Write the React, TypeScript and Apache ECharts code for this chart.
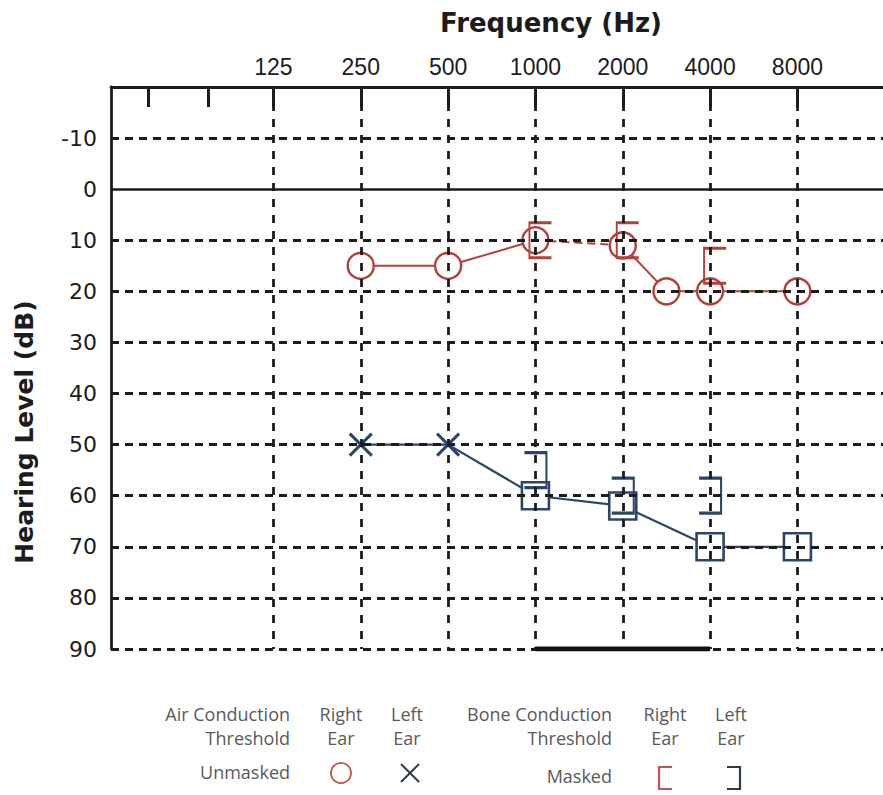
import React, { useEffect, useRef } from 'react';
import * as echarts from 'echarts';

// ---- data ----
const FREQ_LABELS = [125, 250, 500, 1000, 2000, 4000, 8000];
const EXTRA_TICK_POS = [-1.43, -0.75];
const DB_GRID = [-10, 10, 20, 30, 40, 50, 60, 70, 80, 90];
const DB_REF = [0];

const rightAirFreq = [250, 500, 1000, 2000, 3000, 4000, 8000];
const rightAirDb = [15, 15, 10, 11, 20, 20, 20];
const rightAirDashedSeg = [2]; // segment starting at index 2 (1000 -> 2000)

const leftAirFreq = [250, 500, 1000, 2000, 4000, 8000];
const leftAirDb = [50, 50, 60, 62, 70, 70];
const leftAirMark = ['x', 'x', 'square', 'square', 'square', 'square'];

const rightBoneFreq = [1000, 2000, 4000];
const rightBoneDb = [10, 10, 15];
const leftBoneFreq = [1000, 2000, 4000];
const leftBoneDb = [55, 60, 60];

const rangeFreq = [1000, 4000];
const rangeDb = [90, 90];

// ---- styles ----
const RED = '#b3403b';
const BLUE = '#2d4667';
const INK = '#1c1c1c';
const X_PATH = 'path://M0,0L24,24M24,0L0,24';
const LB_PATH = 'path://M18,0L0,0L0,36L18,36';
const RB_PATH = 'path://M0,0L18,0L18,36L0,36';

function fx(f: number): number {
  const k = Math.log2(f / 125);
  const r = Math.round(k);
  return Math.abs(k - r) < 1e-6 ? r : Math.floor(k) + 0.5;
}

export default function App() {
  const ref = useRef<HTMLDivElement>(null);
  useEffect(() => {
    document.body.style.margin = '0';
    const chart = echarts.init(ref.current!, null, { renderer: 'svg' });

    const series: any[] = [];

    for (let i = 0; i < rightAirFreq.length - 1; i++) {
      const dashed = rightAirDashedSeg.includes(i);
      series.push({
        type: 'line',
        z: 2,
        showSymbol: false,
        symbol: 'none',
        data: [
          [fx(rightAirFreq[i]), rightAirDb[i]],
          [fx(rightAirFreq[i + 1]), rightAirDb[i + 1]],
        ],
        lineStyle: { color: RED, width: 2, type: dashed ? [8, 5] : 'solid' },
        silent: true,
      });
    }
    series.push({
      type: 'scatter',
      z: 3,
      symbol: 'circle',
      symbolSize: 26,
      data: rightAirFreq.map((f, i) => [fx(f), rightAirDb[i]]),
      itemStyle: { color: '#ffffff', borderColor: RED, borderWidth: 2.4, opacity: 1 },
      silent: true,
    });

    series.push({
      type: 'line',
      z: 2,
      symbol: 'none',
      data: leftAirFreq.map((f, i) => [fx(f), leftAirDb[i]]),
      lineStyle: { color: BLUE, width: 2.2 },
      silent: true,
    });
    series.push({
      type: 'scatter',
      z: 3,
      data: leftAirFreq.map((f, i) => ({
        value: [fx(f), leftAirDb[i]],
        symbol: leftAirMark[i] === 'x' ? X_PATH : 'rect',
        symbolSize: leftAirMark[i] === 'x' ? 22 : 27,
        itemStyle:
          leftAirMark[i] === 'x'
            ? { color: 'rgba(255,255,255,0)', borderColor: BLUE, borderWidth: 3, opacity: 1 }
            : { color: '#ffffff', borderColor: BLUE, borderWidth: 2.6, opacity: 1 },
      })),
      silent: true,
    });

    series.push({
      type: 'scatter',
      z: 4,
      symbol: LB_PATH,
      symbolKeepAspect: false,
      symbolSize: [22, 35],
      symbolOffset: [5, 0],
      data: rightBoneFreq.map((f, i) => [fx(f), rightBoneDb[i]]),
      itemStyle: { color: 'rgba(255,255,255,0)', borderColor: RED, borderWidth: 2.4, opacity: 1 },
      silent: true,
    });
    series.push({
      type: 'scatter',
      z: 4,
      symbol: RB_PATH,
      symbolKeepAspect: false,
      symbolSize: [22, 35],
      symbolOffset: [0, 0],
      data: leftBoneFreq.map((f, i) => [fx(f), leftBoneDb[i]]),
      itemStyle: { color: 'rgba(255,255,255,0)', borderColor: BLUE, borderWidth: 2.6, opacity: 1 },
      silent: true,
    });

    const dashH = { color: INK, width: 2.8, type: [8, 6] };
    const dashV = { color: INK, width: 2.8, type: [8, 8] };
    series.push({
      type: 'scatter',
      z: 5,
      data: [],
      silent: true,
      markLine: {
        silent: true,
        symbol: ['none', 'none'],
        label: { show: false },
        animation: false,
        data: [
          ...DB_GRID.map((v) => ({ yAxis: v, lineStyle: dashH })),
          ...DB_REF.map((v) => ({ yAxis: v, lineStyle: { color: INK, width: 2.6, type: 'solid' } })),
          ...FREQ_LABELS.map((f) => ({ xAxis: fx(f), lineStyle: dashV })),
        ],
      },
    });

    series.push({
      type: 'line',
      z: 6,
      symbol: 'none',
      data: rangeFreq.map((f, i) => [fx(f), rangeDb[i]]),
      lineStyle: { color: '#111', width: 5 },
      silent: true,
    });

    const legendFont = '18px "Open Sans"';
    const legendColor = '#5a5a5a';
    const lt = (text: string, x: number, y: number, align: string) => ({
      type: 'text',
      x,
      y,
      style: { text, font: legendFont, fill: legendColor, align, verticalAlign: 'middle' },
    });

    chart.setOption({
      animation: false,
      grid: { left: 111, top: 87, right: 0, bottom: 146 },
      xAxis: {
        type: 'value',
        position: 'top',
        min: -1.86,
        max: 6.98,
        axisLine: { show: true, onZero: false, lineStyle: { color: INK, width: 2.8 } },
        axisTick: {
          show: true,
          inside: true,
          length: 20,
          customValues: [...EXTRA_TICK_POS, ...FREQ_LABELS.map(fx)],
          lineStyle: { color: INK, width: 3 },
        },
        axisLabel: {
          customValues: FREQ_LABELS.map(fx),
          formatter: (v: number) => {
            const i = FREQ_LABELS.findIndex((f) => Math.abs(fx(f) - v) < 1e-6);
            return i >= 0 ? String(FREQ_LABELS[i]) : '';
          },
          fontFamily: 'Liberation Sans',
          fontSize: 23,
          color: INK,
          margin: 9,
        },
        splitLine: { show: false },
      },
      yAxis: {
        type: 'value',
        inverse: true,
        min: -20,
        max: 90,
        interval: 10,
        axisLine: { show: true, onZero: false, lineStyle: { color: INK, width: 2.8 } },
        axisTick: { show: false },
        splitLine: { show: false },
        axisLabel: {
          formatter: (v: number) => (v === -20 ? '' : String(v)),
          fontFamily: 'DejaVu Sans',
          fontSize: 22,
          color: INK,
          margin: 14,
        },
      },
      graphic: [
        {
          type: 'text',
          x: 551,
          y: 23,
          style: {
            text: 'Frequency (Hz)',
            font: 'bold 26px "DejaVu Sans"',
            fill: INK,
            align: 'center',
            verticalAlign: 'middle',
          },
        },
        {
          type: 'text',
          x: 24,
          y: 432,
          rotation: Math.PI / 2,
          style: {
            text: 'Hearing Level (dB)',
            font: 'bold 25px "DejaVu Sans"',
            fill: INK,
            align: 'center',
            verticalAlign: 'middle',
          },
        },
        lt('Air Conduction', 290, 714, 'right'),
        lt('Threshold', 290, 738, 'right'),
        lt('Unmasked', 290, 772, 'right'),
        lt('Right', 341, 714, 'center'),
        lt('Ear', 341, 738, 'center'),
        lt('Left', 407, 714, 'center'),
        lt('Ear', 407, 738, 'center'),
        lt('Bone Conduction', 612, 714, 'right'),
        lt('Threshold', 612, 738, 'right'),
        lt('Masked', 612, 776, 'right'),
        lt('Right', 665, 714, 'center'),
        lt('Ear', 665, 738, 'center'),
        lt('Left', 731, 714, 'center'),
        lt('Ear', 731, 738, 'center'),
        {
          type: 'circle',
          shape: { cx: 341, cy: 773, r: 10 },
          style: { fill: 'none', stroke: '#c4524e', lineWidth: 1.8 },
        },
        {
          type: 'line',
          shape: { x1: 401, y1: 764, x2: 419, y2: 782 },
          style: { stroke: '#2a3b55', lineWidth: 2 },
        },
        {
          type: 'line',
          shape: { x1: 419, y1: 764, x2: 401, y2: 782 },
          style: { stroke: '#2a3b55', lineWidth: 2 },
        },
        {
          type: 'polyline',
          shape: { points: [[672, 767], [659, 767], [659, 789], [672, 789]] },
          style: { fill: 'none', stroke: '#c4524e', lineWidth: 2.2 },
        },
        {
          type: 'polyline',
          shape: { points: [[727, 767], [740, 767], [740, 789], [727, 789]] },
          style: { fill: 'none', stroke: '#2a3b55', lineWidth: 2.2 },
        },
      ],
      series,
    });

    return () => chart.dispose();
  }, []);

  return <div ref={ref} style={{ width: 883, height: 795 }} />;
}
